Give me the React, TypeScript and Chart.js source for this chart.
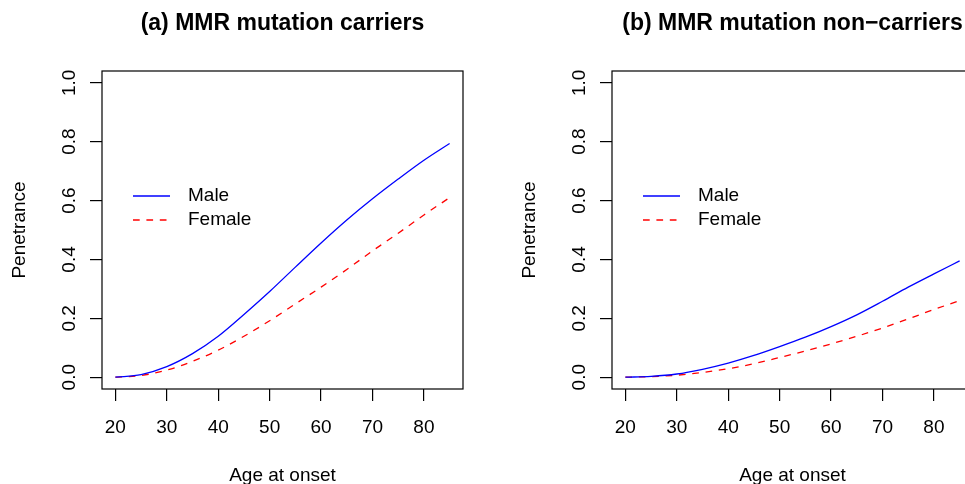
import React, { useEffect, useRef } from "react";
import { Chart, registerables } from "chart.js";

Chart.register(...registerables);

// ---- data ----
const ages = [20, 25, 30, 35, 40, 45, 50, 55, 60, 65, 70, 75, 80, 85];
const carrierMale = [0, 0.009, 0.036, 0.08, 0.139, 0.213, 0.291, 0.374, 0.456, 0.534, 0.606, 0.673, 0.737, 0.794];
const carrierFemale = [0, 0.006, 0.024, 0.054, 0.092, 0.139, 0.192, 0.249, 0.306, 0.366, 0.429, 0.489, 0.551, 0.61];
const nonCarrierMale = [0, 0.003, 0.011, 0.027, 0.048, 0.074, 0.104, 0.136, 0.172, 0.212, 0.258, 0.306, 0.351, 0.395];
const nonCarrierFemale = [0, 0.002, 0.007, 0.016, 0.029, 0.046, 0.067, 0.089, 0.113, 0.139, 0.167, 0.198, 0.23, 0.26];
const xTicks = [20, 30, 40, 50, 60, 70, 80];
const yTicks = [0, 0.2, 0.4, 0.6, 0.8, 1.0];
const seriesLabels = ["Male", "Female"];
const panelTitles = ["(a) MMR mutation carriers", "(b) MMR mutation non\u2212carriers"];
const xAxisTitle = "Age at onset";
const yAxisTitle = "Penetrance";

const FONT = "'Liberation Sans', Arial, Helvetica, sans-serif";
const PANEL_W = 510;
const PANEL_H = 484;
const DASH = [6.7, 6.7];

function toPoints(ys: number[]) {
  return ages.map((a, i) => ({ x: a, y: ys[i] }));
}

function Panel({ title, male, female, left }: { title: string; male: number[]; female: number[]; left: number }) {
  const ref = useRef<HTMLCanvasElement | null>(null);

  useEffect(() => {
    if (!ref.current) return;

    const boxPlugin = {
      id: "boxAndDecor",
      afterDraw(chart: any) {
        const { ctx, chartArea: ca } = chart;
        ctx.save();
        // box
        ctx.strokeStyle = "#000";
        ctx.lineWidth = 1.2;
        ctx.setLineDash([]);
        ctx.strokeRect(ca.left, ca.top, ca.right - ca.left, ca.bottom - ca.top);
        // main title
        ctx.fillStyle = "#000";
        ctx.font = `bold 23px ${FONT}`;
        ctx.textAlign = "center";
        ctx.textBaseline = "middle";
        ctx.fillText(title, (ca.left + ca.right) / 2, 24);
        // legend
        const lx0 = ca.left + 31;
        const lx1 = ca.left + 68;
        const ly = [ca.top + 125, ca.top + 149];
        ctx.lineWidth = 1.3;
        ctx.strokeStyle = "#0000FF";
        ctx.beginPath();
        ctx.moveTo(lx0, ly[0]);
        ctx.lineTo(lx1, ly[0]);
        ctx.stroke();
        ctx.strokeStyle = "#FF0000";
        ctx.setLineDash(DASH);
        ctx.beginPath();
        ctx.moveTo(lx0, ly[1]);
        ctx.lineTo(lx1, ly[1]);
        ctx.stroke();
        ctx.setLineDash([]);
        ctx.font = `19px ${FONT}`;
        ctx.textAlign = "left";
        ctx.fillStyle = "#000";
        ctx.fillText(seriesLabels[0], ca.left + 86, ly[0]);
        ctx.fillText(seriesLabels[1], ca.left + 86, ly[1]);
        ctx.restore();
      },
    };

    const chart = new Chart(ref.current, {
      type: "line",
      data: {
        datasets: [
          {
            label: seriesLabels[0],
            data: toPoints(male),
            borderColor: "#0000FF",
            borderWidth: 1.3,
            pointRadius: 0,
            fill: false,
            cubicInterpolationMode: "monotone",
          },
          {
            label: seriesLabels[1],
            data: toPoints(female),
            borderColor: "#FF0000",
            borderWidth: 1.3,
            borderDash: DASH,
            pointRadius: 0,
            fill: false,
            cubicInterpolationMode: "monotone",
          },
        ],
      },
      options: {
        animation: false,
        responsive: false,
        maintainAspectRatio: false,
        events: [],
        layout: { padding: { top: 71, right: 47, left: 0, bottom: 0 } },
        plugins: {
          legend: { display: false },
          title: { display: false },
          tooltip: { enabled: false },
        },
        scales: {
          x: {
            type: "linear",
            min: 17.4,
            max: 87.6,
            afterBuildTicks: (scale: any) => {
              scale.ticks = xTicks.map((v) => ({ value: v }));
            },
            afterFit: (scale: any) => {
              scale.height = 95;
            },
            border: { display: false },
            grid: {
              drawOnChartArea: false,
              drawTicks: true,
              tickLength: 12,
              color: "#000",
              lineWidth: 1.2,
            },
            ticks: {
              color: "#000",
              font: { family: FONT, size: 19 },
              padding: 15,
              maxRotation: 0,
              minRotation: 0,
              autoSkip: false,
              callback: (v: any) => String(v),
            },
            title: {
              display: true,
              text: xAxisTitle,
              color: "#000",
              font: { family: FONT, size: 19 },
              padding: { top: 0, bottom: -3 },
            },
          },
          y: {
            type: "linear",
            min: -0.04,
            max: 1.04,
            afterBuildTicks: (scale: any) => {
              scale.ticks = yTicks.map((v) => ({ value: v }));
            },
            afterFit: (scale: any) => {
              scale.width = 102;
            },
            border: { display: false },
            grid: {
              drawOnChartArea: false,
              drawTicks: true,
              tickLength: 12,
              color: "#000",
              lineWidth: 1.2,
            },
            ticks: {
              color: "#000",
              font: { family: FONT, size: 19 },
              padding: 7,
              minRotation: 90,
              maxRotation: 90,
              crossAlign: "center",
              autoSkip: false,
              callback: (v: any) => Number(v).toFixed(1),
            },
            title: {
              display: true,
              text: yAxisTitle,
              color: "#000",
              font: { family: FONT, size: 19 },
              padding: { top: 8, bottom: 0 },
            },
          },
        },
      },
      plugins: [boxPlugin],
    } as any);

    return () => chart.destroy();
  }, [title, male, female]);

  return (
    <canvas
      ref={ref}
      width={PANEL_W}
      height={PANEL_H}
      style={{ position: "absolute", left, top: 0, width: PANEL_W, height: PANEL_H, display: "block" }}
    />
  );
}

export default function App() {
  return (
    <div
      style={{
        position: "absolute",
        left: 0,
        top: 0,
        width: 965,
        height: 484,
        overflow: "hidden",
        background: "#fff",
      }}
    >
      <Panel title={panelTitles[0]} male={carrierMale} female={carrierFemale} left={0} />
      <Panel title={panelTitles[1]} male={nonCarrierMale} female={nonCarrierFemale} left={510} />
    </div>
  );
}
